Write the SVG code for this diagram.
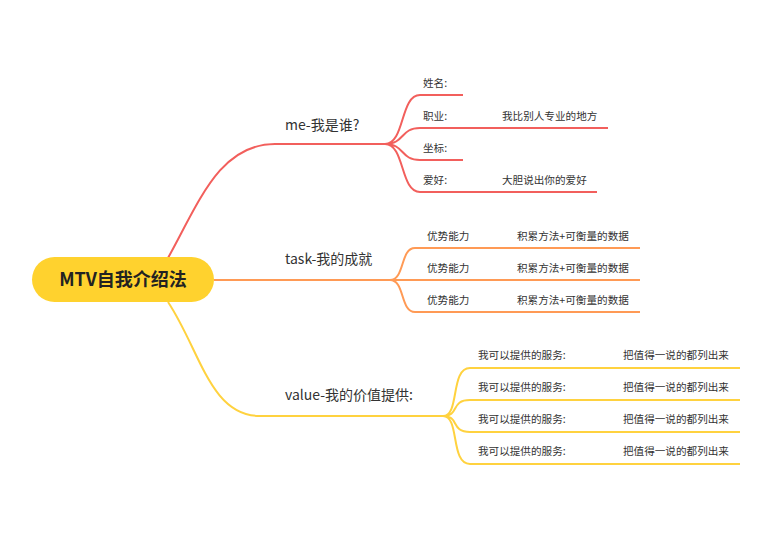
<svg xmlns="http://www.w3.org/2000/svg" width="771" height="552" viewBox="0 0 771 552">
<style>
text{font-family:"Noto Sans CJK SC","Noto Sans",sans-serif;fill:#333}
.l1{font-size:14px}.l2{font-size:10.6px}
.r{fill:none;stroke:#F25F5C;stroke-width:2}
.o{fill:none;stroke:#FF9A55;stroke-width:2}
.y{fill:none;stroke:#FFD23F;stroke-width:2}
</style>
<rect width="771" height="552" fill="#fff"/>
<g id="connectors">
<path class="r" d="M168,258 C200,200 220,144 275,144 L385,144"/>
<path class="r" d="M385,144 C405,144 400,95 420,95 L463,95 M385,144 C405,144 400,128 420,128 L608,128 M385,144 C405,144 400,160 420,160 L463,160 M385,144 C405,144 400,192 420,192 L597,192"/>
<path class="o" d="M214,280 L390,280"/>
<path class="o" d="M390,280 C405,280 400,248 415,248 L640,248 M390,280 L640,280 M390,280 C405,280 400,312 415,312 L640,312"/>
<path class="y" d="M168,302 C200,350 210,416 260,416 L443,416"/>
<path class="y" d="M443,416 C460,416 450,368 470,368 L740,368 M443,416 C460,416 450,400 470,400 L740,400 M443,416 C460,416 450,432 470,432 L740,432 M443,416 C460,416 450,464 470,464 L740,464"/>
</g>
<g id="root"><rect x="32" y="257" width="182" height="45" rx="22.5" fill="#FFD22E"/><text x="123" y="286" text-anchor="middle" font-size="18" font-weight="bold" style="fill:#222">MTV自我介绍法</text></g>
<g id="me"><text class="l1" x="285" y="130">me-我是谁?</text>
<text class="l2" x="423" y="87">姓名:</text><text class="l2" x="423" y="120">职业:</text><text class="l2" x="502" y="120">我比别人专业的地方</text>
<text class="l2" x="423" y="152">坐标:</text><text class="l2" x="423" y="184">爱好:</text><text class="l2" x="502" y="184">大胆说出你的爱好</text></g>
<g id="task"><text class="l1" x="285" y="264">task-我的成就</text>
<text class="l2" x="427" y="240">优势能力</text><text class="l2" x="517" y="240">积累方法+可衡量的数据</text>
<text class="l2" x="427" y="272">优势能力</text><text class="l2" x="517" y="272">积累方法+可衡量的数据</text>
<text class="l2" x="427" y="304">优势能力</text><text class="l2" x="517" y="304">积累方法+可衡量的数据</text></g>
<g id="value"><text class="l1" x="285" y="400">value-我的价值提供:</text>
<text class="l2" x="478" y="359">我可以提供的服务:</text><text class="l2" x="623" y="359">把值得一说的都列出来</text>
<text class="l2" x="478" y="391">我可以提供的服务:</text><text class="l2" x="623" y="391">把值得一说的都列出来</text>
<text class="l2" x="478" y="423">我可以提供的服务:</text><text class="l2" x="623" y="423">把值得一说的都列出来</text>
<text class="l2" x="478" y="455">我可以提供的服务:</text><text class="l2" x="623" y="455">把值得一说的都列出来</text></g>
</svg>
